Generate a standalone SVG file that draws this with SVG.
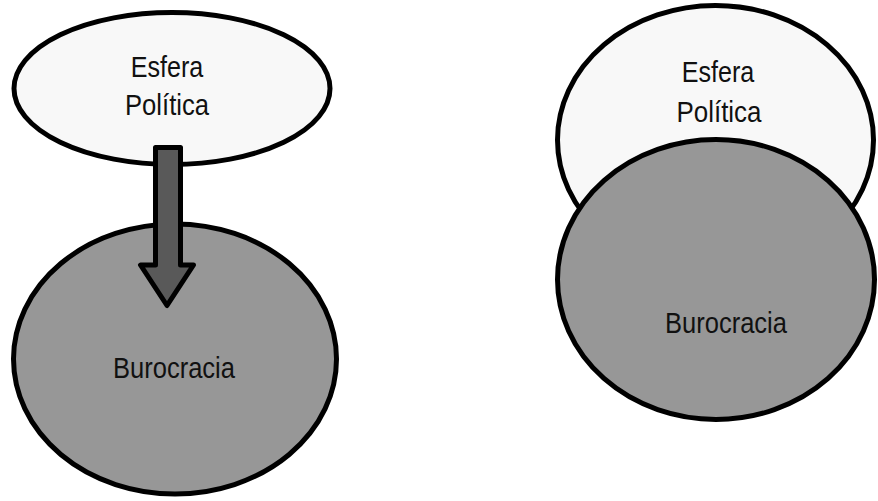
<svg xmlns="http://www.w3.org/2000/svg" width="878" height="501" viewBox="0 0 878 501">
<style>
.sh{stroke:#000;stroke-width:5}
.light{fill:#f8f8f8}
.dark{fill:#979797}
.t{font-family:"Liberation Sans",Arial,sans-serif;font-size:30px;fill:#111;text-anchor:middle}
.arr{fill:#595959;stroke:#000;stroke-width:5;stroke-linejoin:round}
</style>
<rect width="878" height="501" fill="#fff"/>
<g id="esfera-left">
<ellipse class="sh light" cx="172" cy="88.5" rx="158" ry="76"/>
<text class="t" x="167" y="77.3" textLength="72.6" lengthAdjust="spacingAndGlyphs">Esfera</text>
<text class="t" x="167" y="115" textLength="84" lengthAdjust="spacingAndGlyphs">Política</text>
</g>
<g id="burocracia-left">
<ellipse class="sh dark" cx="175" cy="359" rx="161.5" ry="135"/>
<text class="t" x="174" y="378.3" textLength="122" lengthAdjust="spacingAndGlyphs">Burocracia</text>
</g>
<g id="connectors">
<polygon class="arr" points="155.5,147.5 180.5,147.5 180.5,265 193.5,265 167,305.5 140.5,265 155.5,265"/>
</g>
<g id="esfera-right">
<ellipse class="sh light" cx="715.5" cy="140" rx="158" ry="134.5"/>
<text class="t" x="718" y="82.3" textLength="72.6" lengthAdjust="spacingAndGlyphs">Esfera</text>
<text class="t" x="719" y="121.7" textLength="85" lengthAdjust="spacingAndGlyphs">Política</text>
</g>
<g id="burocracia-right">
<ellipse class="sh dark" cx="716" cy="279.5" rx="158.5" ry="140"/>
<text class="t" x="726" y="333.3" textLength="122" lengthAdjust="spacingAndGlyphs">Burocracia</text>
</g>
</svg>
